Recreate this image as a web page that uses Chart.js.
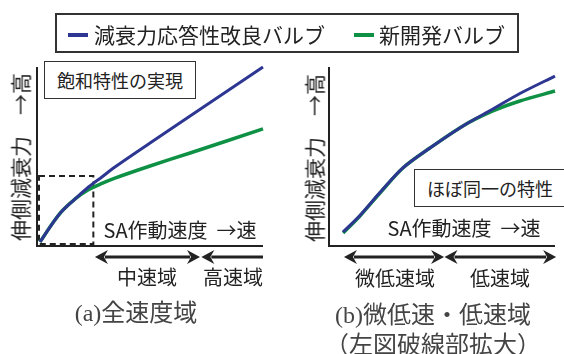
<!DOCTYPE html>
<html>
<head>
<meta charset="utf-8">
<script src="https://cdn.jsdelivr.net/npm/chart.js@4.4.1/dist/chart.umd.min.js"></script>
<style>
  body { margin: 0; background: #fff; width: 564px; height: 354px; position: relative; overflow: hidden;
         font-family: "Noto Sans CJK JP", "Noto Sans", sans-serif; color: #222; }
  canvas { position: absolute; top: 0; }
  .t { position: absolute; transform: translate(-50%, -50%); white-space: nowrap; line-height: 1; }
  .box { position: absolute; border: 1.5px solid #333; background: #fff; box-sizing: border-box; }
  .legend { position: absolute; left: 55px; top: 13px; width: 464px; height: 40px; border: 2px solid #333; box-sizing: border-box; }
  .sw { position: absolute; height: 4px; width: 20px; top: 18px; }
  .lt { position: absolute; top: 19px; transform: translateY(-50%); font-size: 21px; line-height: 1; white-space: nowrap; }
  .ytitle { position: absolute; transform: translate(-50%, -50%) rotate(-90deg); font-size: 21px; line-height: 1; white-space: nowrap; }
  .cap { font-family: "Liberation Serif", "Noto Sans CJK JP", serif; font-size: 24px; color: #444; }
</style>
</head>
<body>
<canvas id="chartA" width="282" height="354" style="left:0"></canvas>
<canvas id="chartB" width="282" height="354" style="left:282px"></canvas>

<div class="legend">
  <div class="sw" style="left:11px;background:#2d3792"></div>
  <div class="lt" style="left:37px">減衰力応答性改良バルブ</div>
  <div class="sw" style="left:297px;background:#0f9145"></div>
  <div class="lt" style="left:322px">新開発バルブ</div>
</div>

<div class="box" style="left:44px;top:61px;width:152px;height:38px"></div>
<div class="t" style="left:120px;top:80px;font-size:18px">飽和特性の実現</div>
<div class="box" style="left:414px;top:169px;width:152px;height:38px"></div>
<div class="t" style="left:490px;top:188px;font-size:18px">ほぼ同一の特性</div>

<div class="ytitle" style="left:20px;top:157px">伸側減衰力　→高</div>
<div class="ytitle" style="left:314px;top:158px">伸側減衰力　→高</div>

<div class="t" style="left:180px;top:230px;font-size:20px">SA作動速度&nbsp;&nbsp;→速</div>
<div class="t" style="left:464px;top:228px;font-size:20px">SA作動速度&nbsp;&nbsp;→速</div>

<div class="t" style="left:147px;top:277px;font-size:20px">中速域</div>
<div class="t" style="left:233px;top:277px;font-size:20px">高速域</div>
<div class="t" style="left:395px;top:278px;font-size:20px">微低速域</div>
<div class="t" style="left:500px;top:278px;font-size:20px">低速域</div>

<div class="t cap" style="left:136px;top:313px">(a)全速度域</div>
<div class="t cap" style="left:433px;top:315px">(b)微低速・低速域</div>
<div class="t cap" style="left:433px;top:345px">（左図破線部拡大）</div>

<script>
// (a) full speed range
const speedA = [0.9, 6.7, 10.7, 16.4, 22.2, 28.4, 34.2, 49.8, 67.6, 100];
const improvedA = [1.7, 12.6, 19.1, 25.8, 32.3, 38.2, 43.8, 57.3, 72.5, 100];
const newValveA = [1.7, 12.6, 19.1, 25.8, 30.9, 34.6, 37.6, 44.4, 51.7, 65.2];

// (b) very low / low speed range (enlarged dashed region)
const speedB = [5.8, 13.3, 22.2, 32.4, 44.4, 59.1, 72.4, 84.4, 100];
const improvedB = [7.3, 16.6, 29.5, 43.3, 54.5, 66.9, 76.4, 85.1, 94.9];
const newValveB = [6.7, 16.3, 29.2, 43.3, 54.5, 66.9, 75.3, 80.9, 86.5];

// range arrows along the speed axis: [from, to, head at start, head at end]
const rangesA = [[25.3, 72, true, true], [72.6, 100, true, false]];
const rangesB = [[6.2, 50.7, true, true], [50.9, 100.5, true, true]];

// dashed region of (a) that is enlarged in (b)
const zoomRegion = { speed: 24.6, force: 38.8 };

const BLUE = '#2d3792';
const GREEN = '#0f9145';

function pts(xs, ys) {
  return xs.map((x, i) => ({ x: x, y: ys[i] }));
}

function drawArrow(ctx, x1, x2, y, headL, headR) {
  const len = 13, hw = 7;
  ctx.save();
  ctx.strokeStyle = '#222';
  ctx.fillStyle = '#222';
  ctx.lineWidth = 3;
  ctx.beginPath();
  ctx.moveTo(headL ? x1 + len - 3 : x1, y);
  ctx.lineTo(headR ? x2 - len + 3 : x2, y);
  ctx.stroke();
  const head = (tip, dir) => {
    ctx.beginPath();
    ctx.moveTo(tip, y);
    ctx.lineTo(tip + dir * len, y - hw);
    ctx.lineTo(tip + dir * (len - 4), y);
    ctx.lineTo(tip + dir * len, y + hw);
    ctx.closePath();
    ctx.fill();
  };
  if (headL) head(x1, 1);
  if (headR) head(x2, -1);
  ctx.restore();
}

const panelDecor = {
  id: 'panelDecor',
  beforeDatasetsDraw(chart, args, opts) {
    const { ctx, chartArea: a, scales } = chart;
    ctx.save();
    ctx.strokeStyle = '#222';
    ctx.lineWidth = 2;
    ctx.beginPath();
    ctx.moveTo(a.left - 1, a.top);
    ctx.lineTo(a.left - 1, a.bottom + 1);
    ctx.lineTo(a.right, a.bottom + 1);
    ctx.stroke();
    if (opts.zoom) {
      const x0 = scales.x.getPixelForValue(0) + 1;
      const x1 = scales.x.getPixelForValue(opts.zoom.speed);
      const y1 = scales.y.getPixelForValue(opts.zoom.force);
      ctx.setLineDash([6, 4]);
      ctx.strokeRect(x0, y1, x1 - x0, a.bottom - y1 - 1);
    }
    ctx.restore();
    const ay = a.bottom + 12;
    (opts.ranges || []).forEach(r => {
      drawArrow(ctx, scales.x.getPixelForValue(r[0]), scales.x.getPixelForValue(r[1]), ay, r[2], r[3]);
    });
  }
};

function makeChart(id, speed, improved, newValve, pad, decor) {
  return new Chart(document.getElementById(id), {
    type: 'line',
    data: {
      datasets: [
        { label: '減衰力応答性改良バルブ', data: pts(speed, improved), borderColor: BLUE, borderWidth: 3 },
        { label: '新開発バルブ', data: pts(speed, newValve), borderColor: GREEN, borderWidth: 3.5 }
      ]
    },
    options: {
      responsive: false,
      animation: false,
      layout: { padding: pad },
      elements: { point: { radius: 0 }, line: { tension: 0.3, borderCapStyle: 'butt' } },
      clip: false,
      scales: {
        x: { type: 'linear', min: 0, max: 100, display: false },
        y: { min: 0, max: 100, display: false }
      },
      plugins: { legend: { display: false }, tooltip: { enabled: false }, panelDecor: decor }
    },
    plugins: [panelDecor]
  });
}

makeChart('chartA', speedA, improvedA, newValveA,
  { left: 38, right: 19, top: 67, bottom: 109 },
  { ranges: rangesA, zoom: zoomRegion });
makeChart('chartB', speedB, improvedB, newValveB,
  { left: 48, right: 9, top: 67, bottom: 109 },
  { ranges: rangesB });
</script>
</body>
</html>
